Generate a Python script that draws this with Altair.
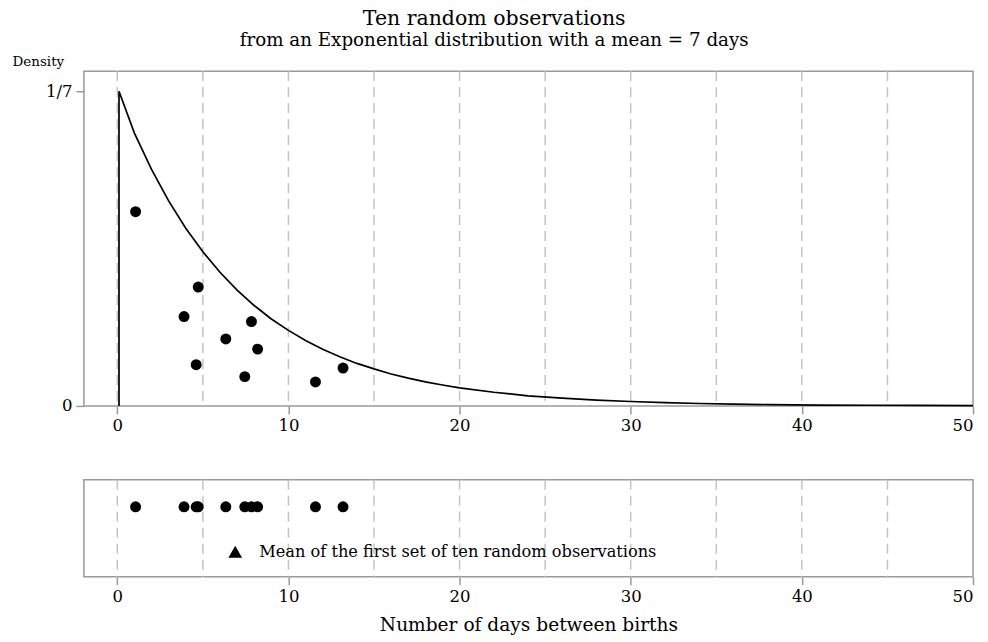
import altair as alt
import pandas as pd

FONT = "DejaVu Serif"

# observations (days) and their jittered heights in the top panel
obs_x = [1.07, 3.90, 4.61, 4.73, 6.34, 7.45, 7.84, 8.20, 11.58, 13.19]
obs_y = [0.0882, 0.0406, 0.0187, 0.0540, 0.0304, 0.0133, 0.0383, 0.0258, 0.0109, 0.0172]

# density curve
curve_x = [0.1, 0.1, 1, 2, 3, 4, 5, 6, 7, 8, 9, 10, 11, 12, 13, 14, 15, 16, 17, 18, 19, 20,
           22, 24, 26, 28, 30, 32, 34, 36, 38, 41, 44, 47, 50]
curve_y = [0.0, 0.1429, 0.1239, 0.1074, 0.0931, 0.0807, 0.0700, 0.0607, 0.0526, 0.0456, 0.0395,
           0.0343, 0.0297, 0.0257, 0.0223, 0.0193, 0.0168, 0.0145, 0.0126, 0.0109, 0.0095, 0.0082,
           0.0062, 0.0046, 0.0035, 0.0026, 0.0020, 0.0015, 0.0011, 0.0008, 0.0006, 0.0004, 0.0003,
           0.0002, 0.0001]

grid_x = [0, 5, 10, 15, 20, 25, 30, 35, 40, 45]
tick_x = [0, 10, 20, 30, 40, 50]
y_ticks = [0, 1 / 7]
legend_label = "Mean of the first set of ten random observations"

obs_df = pd.DataFrame({"x": obs_x, "y": obs_y})
curve_df = pd.DataFrame({"x": curve_x, "y": curve_y, "i": list(range(len(curve_x)))})
grid_df = pd.DataFrame({"g": grid_x})
mean_df = pd.DataFrame({"x": obs_x, "label": [legend_label] * len(obs_x)})

xs = alt.Scale(domain=[-1.95, 50], nice=False, zero=False)
ys = alt.Scale(domain=[0, 0.152], nice=False, zero=False)

grid_color = "#c4c4c4"
frame_color = "#9a9a9a"

x_axis_top = alt.Axis(values=tick_x, title=None, grid=False, domain=False, tickSize=8,
                      tickColor=frame_color, tickWidth=1.5, labelPadding=4)

grid_top = alt.Chart(grid_df).mark_rule(color=grid_color, strokeDash=[10, 6], strokeWidth=1.5).encode(
    x=alt.X("g:Q", scale=xs, axis=x_axis_top)
)
curve = alt.Chart(curve_df).mark_line(color="black", strokeWidth=1.7).encode(
    x=alt.X("x:Q", scale=xs, axis=x_axis_top),
    y=alt.Y("y:Q", scale=ys, axis=alt.Axis(
        values=y_ticks, labelExpr="datum.value == 0 ? '0' : '1/7'", title="Density",
        titleAngle=0, titleX=-72, titleY=-6, titleAlign="left", titleBaseline="alphabetic",
        titleFontSize=13.5, titleFontWeight="normal", grid=False, domain=False, tickSize=8,
        tickColor=frame_color, tickWidth=1.5, labelPadding=4)),
    order="i:Q",
)
pts = alt.Chart(obs_df).mark_circle(color="black", size=120, opacity=1).encode(
    x=alt.X("x:Q", scale=xs),
    y=alt.Y("y:Q", scale=ys),
)
top = alt.layer(grid_top, curve, pts).properties(width=890, height=335)

x_axis_bot = alt.Axis(values=tick_x, title="Number of days between births", grid=False, domain=False,
                      tickSize=8, tickColor=frame_color, tickWidth=1.5, labelPadding=4,
                      titleFontSize=18.6, titleFontWeight="normal", titlePadding=10)

grid_bot = alt.Chart(grid_df).mark_rule(color=grid_color, strokeDash=[10, 6], strokeWidth=1.5).encode(
    x=alt.X("g:Q", scale=xs, axis=x_axis_bot)
)
dots = alt.Chart(obs_df).mark_circle(color="black", size=120, opacity=1).encode(
    x=alt.X("x:Q", scale=xs, axis=x_axis_bot),
    y=alt.value(27),
)
tri = alt.Chart(mean_df).mark_point(shape="triangle-up", filled=True, size=190, color="black", opacity=1).encode(
    x=alt.X("mean(x):Q", scale=xs),
    y=alt.value(72),
)
lab = alt.Chart(mean_df).mark_text(align="left", baseline="middle", dx=24, fontSize=16.2, font=FONT,
                                  color="black").encode(
    x=alt.X("mean(x):Q", scale=xs),
    y=alt.value(72),
    text="min(label):N",
)
bottom = alt.layer(grid_bot, dots, tri, lab).properties(width=890, height=97)

chart = alt.vconcat(top, bottom, spacing=74, bounds="flush").properties(
    title=alt.TitleParams(
        text="Ten random observations",
        subtitle="from an Exponential distribution with a mean = 7 days",
        font=FONT, subtitleFont=FONT, fontSize=20.5, subtitleFontSize=18.3,
        fontWeight="normal", color="black", subtitleColor="black",
        anchor="middle", subtitlePadding=3, offset=4,
    ),
    padding={"left": 11, "top": 8, "right": 10, "bottom": 5},
).configure_view(stroke=frame_color, strokeWidth=1.5).configure_axis(
    labelFont=FONT, titleFont=FONT, labelFontSize=16.5, labelColor="black", titleColor="black"
)

chart.save("out.html", embed_options={"renderer": "svg", "actions": False})
